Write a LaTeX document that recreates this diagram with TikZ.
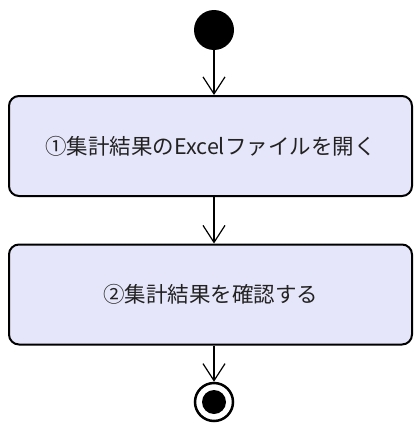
\documentclass[tikz,border=0pt]{standalone}
\usepackage{fontspec}
\newfontfamily\cjk{Noto Sans CJK JP}
\usetikzlibrary{arrows.meta}
\definecolor{boxfill}{HTML}{E6E6FA}
\definecolor{txt}{HTML}{222222}
\tikzset{
  actbox/.style={draw=black, line width=2pt, fill=boxfill, rounded corners=10pt,
    minimum width=403pt, minimum height=100pt, inner sep=0pt,
    font=\cjk\fontsize{21.5pt}{24pt}\selectfont, text=txt},
  flow/.style={draw=black, line width=1.2pt, -{Straight Barb[length=17pt,width=22pt,line width=1.2pt]}},
}
\begin{document}
\begin{tikzpicture}[x=1pt,y=-1pt]
\useasboundingbox (0,0) rectangle (414,431);
\node[circle, fill=black, minimum size=40pt, inner sep=0pt] (start) at (214,30) {};
\node[actbox] (a1) at (210.5,146) {①集計結果のExcelファイルを開く};
\node[actbox] (a2) at (210.5,294.5) {②集計結果を確認する};
\node[circle, draw=black, line width=2.5pt, fill=white, minimum size=38pt, inner sep=0pt] (end) at (214,402) {};
\node[circle, fill=black, minimum size=24pt, inner sep=0pt] (endin) at (214,402) {};
\draw[flow] (start.south) -- (a1.north -| start.south);
\draw[flow] (a1.south -| start.south) -- (a2.north -| start.south);
\draw[flow] (a2.south -| start.south) -- (end.north);
\end{tikzpicture}
\end{document}
